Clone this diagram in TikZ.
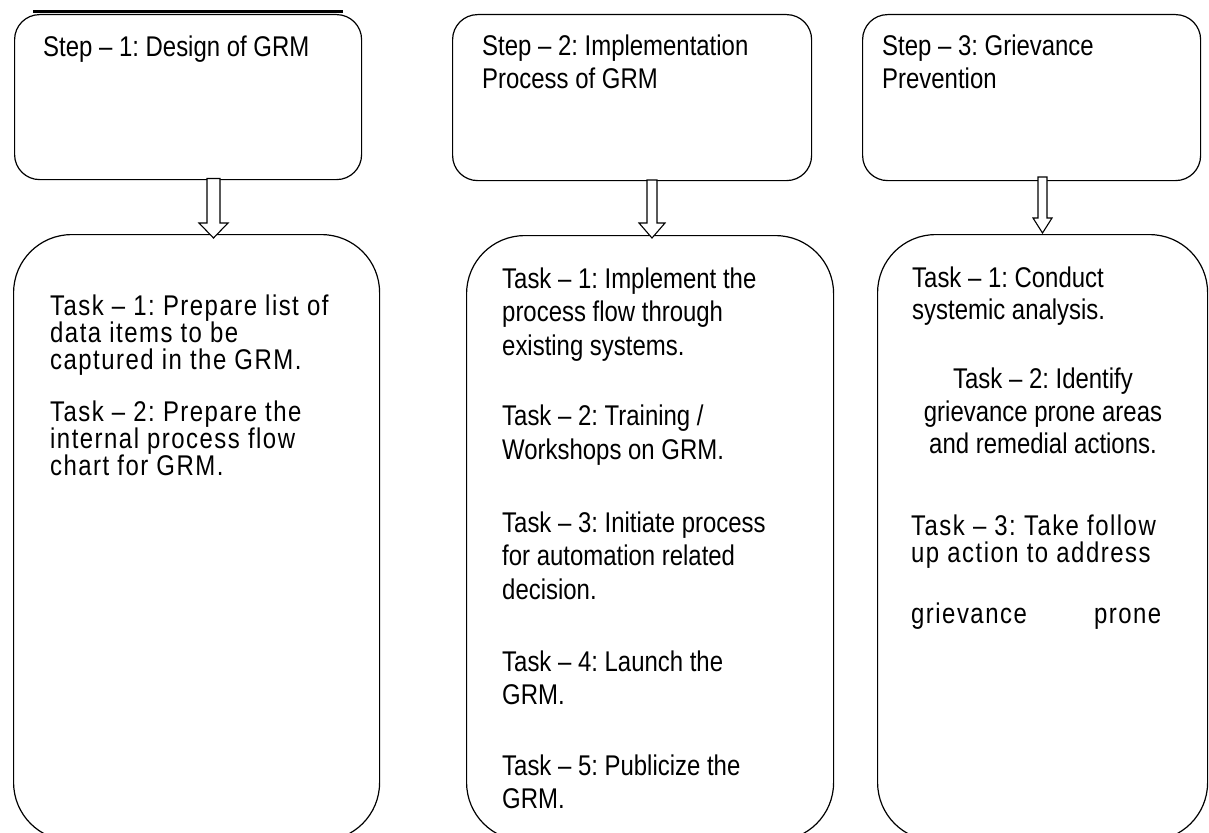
\documentclass[tikz,border=0pt]{standalone}
\usepackage{fontspec}
\setmainfont{Liberation Sans}
\newfontfamily\fN[FakeStretch=0.84]{Liberation Sans}
\newfontfamily\fW[FakeStretch=0.84,LetterSpace=5.2]{Liberation Sans}
\usetikzlibrary{calc}
\frenchspacing
\newcommand{\blockarr}[5]{%
  \draw[barrow] let \p1=(#1), \p2=(#2) in
    (\x1-#3,\y1) -- (\x1+#3,\y1) -- (\x1+#3,\y2+#5) -- (\x1+#4,\y2+#5)
    -- (\x2,\y2) -- (\x1-#4,\y2+#5) -- (\x1-#3,\y2+#5) -- cycle;}
\begin{document}
\begin{tikzpicture}[x=1pt,y=-1pt,
  stepbox/.style={draw=black, line width=1.2pt, rounded corners=25pt, anchor=north west, inner sep=0pt},
  taskbox/.style={draw=black, line width=1.2pt, rounded corners=58pt, anchor=north west, inner sep=0pt},
  barrow/.style={draw=black, line width=1.1pt, fill=white},
  tn/.style={inner sep=0pt, anchor=base west, font=\fN\fontsize{28.5pt}{33pt}\selectfont\frenchspacing},
  tw/.style={inner sep=0pt, anchor=base west, font=\fW\fontsize{28.5pt}{33pt}\selectfont\frenchspacing},
  tc/.style={tn, anchor=base}]
\useasboundingbox (0,0) rectangle (1209,832);
\clip (0,0) rectangle (1209,832);
% top rule
\coordinate (r1) at (33,11.5);
\coordinate (r2) at (343,11.5);
\draw[line width=2.2pt] (r1) -- (r2);
% step boxes
\node[stepbox, minimum width=347pt, minimum height=165pt] (s1) at (14,14) {};
\node[stepbox, minimum width=359pt, minimum height=166pt] (s2) at (452,14) {};
\node[stepbox, minimum width=338pt, minimum height=166pt] (s3) at (862,14) {};
% task boxes
\node[taskbox, minimum width=366pt, minimum height=606pt] (t1) at (13,234) {};
\node[taskbox, minimum width=367pt, minimum height=605pt] (t2) at (466,235) {};
\node[taskbox, minimum width=330pt, minimum height=606pt] (t3) at (877,234) {};
% arrows
\coordinate (a1top) at (213.5,178.5);
\coordinate (a1tip) at (213.5,238);
\coordinate (a2top) at (652,180);
\coordinate (a2tip) at (652,238);
\coordinate (a3top) at (1042.5,177);
\coordinate (a3tip) at (1042.5,233);
\blockarr{a1top}{a1tip}{6.5pt}{14.5pt}{15pt}
\blockarr{a2top}{a2tip}{5pt}{13pt}{15pt}
\blockarr{a3top}{a3tip}{4.5pt}{9.5pt}{15pt}
% step titles
\node[tn] (st1) at (43,57) {Step – 1: Design of GRM};
\node[tn] (st2a) at (482,56) {Step – 2: Implementation};
\node[tn] (st2b) at (482,89) {Process of GRM};
\node[tn] (st3a) at (882,56) {Step – 3: Grievance};
\node[tn] (st3b) at (882,89) {Prevention};
% left tasks
\node[tw] (l1) at (50,315) {Task – 1: Prepare list of};
\node[tw] (l2) at (50,342) {data items to be};
\node[tw] (l3) at (50,369) {captured in the GRM.};
\node[tw] (l4) at (50,421) {Task – 2: Prepare the};
\node[tw] (l5) at (50,448) {internal process flow};
\node[tw] (l6) at (50,475) {chart for GRM.};
% middle tasks
\node[tn] (m1) at (502,288) {Task – 1: Implement the};
\node[tn] (m2) at (502,321) {process flow through};
\node[tn] (m3) at (502,355) {existing systems.};
\node[tn] (m4) at (502,425) {Task – 2: Training /};
\node[tn] (m5) at (502,459) {Workshops on GRM.};
\node[tn] (m6) at (502,532) {Task – 3: Initiate process};
\node[tn] (m7) at (502,565) {for automation related};
\node[tn] (m8) at (502,599) {decision.};
\node[tn] (m9) at (502,671) {Task – 4: Launch the};
\node[tn] (m10) at (502,704) {GRM.};
\node[tn] (m11) at (502,775) {Task – 5: Publicize the};
\node[tn] (m12) at (502,808) {GRM.};
% right tasks
\node[tn] (q1) at (912,287) {Task – 1: Conduct};
\node[tn] (q2) at (912,319) {systemic analysis.};
\node[tc] (q3) at (1043,388) {Task – 2: Identify};
\node[tc] (q4) at (1043,421) {grievance prone areas};
\node[tc] (q5) at (1043,453) {and remedial actions.};
\node[tw] (q6) at (911,535) {Task – 3: Take follow};
\node[tw] (q7) at (911,562) {up action to address};
\node[tw] (q8) at (911,623) {\makebox[250pt][s]{grievance prone}};
\end{tikzpicture}
\end{document}
